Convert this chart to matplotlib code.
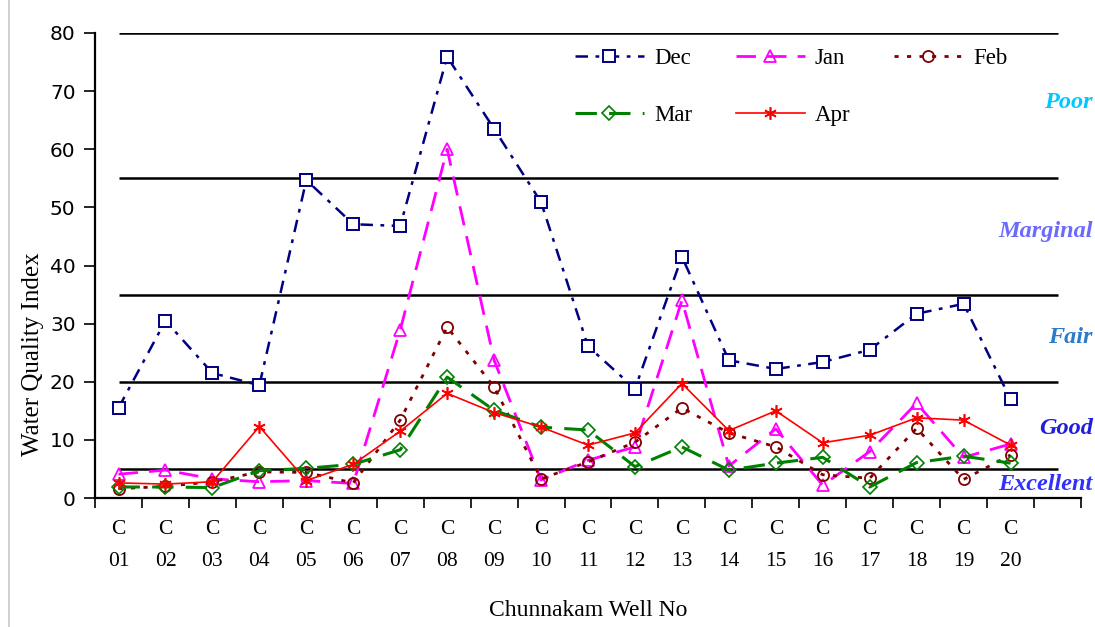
import numpy as np
import matplotlib
matplotlib.use('Agg')
import matplotlib.pyplot as plt
from matplotlib.lines import Line2D

plt.rcParams['font.family'] = ['Liberation Serif', 'DejaVu Serif']

# 数据
wells = ['C\n01', 'C\n02', 'C\n03', 'C\n04', 'C\n05', 'C\n06', 'C\n07', 'C\n08', 'C\n09', 'C\n10',
         'C\n11', 'C\n12', 'C\n13', 'C\n14', 'C\n15', 'C\n16', 'C\n17', 'C\n18', 'C\n19', 'C\n20']
dec = [15.5, 30.5, 21.5, 19.4, 54.7, 47.1, 46.8, 75.9, 63.5, 50.9,
       26.1, 18.8, 41.5, 23.7, 22.2, 23.4, 25.5, 31.7, 33.4, 17.0]
jan = [4.1, 4.8, 3.3, 2.8, 3.0, 2.5, 28.9, 60.0, 23.7, 3.1,
       6.5, 8.8, 34.0, 5.5, 11.9, 2.2, 8.0, 16.3, 7.0, 9.3]
feb = [1.6, 2.0, 2.8, 4.5, 4.4, 2.6, 13.4, 29.4, 19.1, 3.3,
       6.2, 9.6, 15.5, 11.2, 8.8, 4.0, 3.4, 12.0, 3.2, 7.4]
mar = [1.9, 1.9, 1.8, 4.7, 5.1, 5.8, 8.3, 20.8, 15.1, 12.2,
       11.7, 5.4, 8.8, 4.8, 6.0, 7.0, 1.9, 6.1, 7.2, 6.0]
apr = [2.6, 2.4, 2.8, 12.3, 3.0, 5.8, 11.5, 18.0, 14.7, 12.2,
       9.1, 11.2, 19.7, 11.6, 15.0, 9.5, 10.8, 13.8, 13.4, 9.1]

# 水质等级分界线和标签
levels = [5, 20, 35, 55, 80]
zone_names = ['Poor', 'Marginal', 'Fair', 'Good', 'Excellent']
zone_y = [68, 45.8, 27.7, 12.0, 2.4]
zone_colors = ['#00C8FF', '#6A6AFF', '#2A7CC8', '#1E1EDC', '#3030FF']

x = np.arange(len(wells))

fig = plt.figure(figsize=(10.95, 6.27), dpi=100)
ax = fig.add_axes([0.0868, 0.2057, 0.9004, 0.7417])

# 分界线延伸到第21个(空)类别
ax.hlines(levels, x[0], x[-1] + 1, colors='black', linewidth=1.8, zorder=1)

ax.plot(x, dec, color='#000080', linestyle=(0, (5, 3, 1.5, 3)), linewidth=1.8,
        marker='s', markersize=9, markerfacecolor='white', markeredgewidth=1.4, label='Dec', zorder=3)
ax.plot(x, jan, color='#FF00FF', linestyle=(0, (7, 4)), linewidth=2,
        marker='^', markersize=9, markerfacecolor='none', markeredgewidth=1.3, label='Jan', zorder=3)
ax.plot(x, feb, color='#800000', linestyle=(0, (1.5, 3)), linewidth=2,
        marker='o', markersize=8, markerfacecolor='none', markeredgewidth=1.3, label='Feb', zorder=3)
ax.plot(x, mar, color='#008000', linestyle=(0, (7, 4)), linewidth=2.2,
        marker='D', markersize=7, markerfacecolor='none', markeredgewidth=1.2, label='Mar', zorder=3)
ax.plot(x, apr, color='#FF0000', linestyle='-', linewidth=1.2,
        marker=(6, 2, 0), markersize=9, markeredgewidth=1.2, label='Apr', zorder=4)

for name, yy, c in zip(zone_names, zone_y, zone_colors):
    ax.text(20.75, yy, name, color=c, fontsize=17.5, fontweight='bold', fontstyle='italic',
            ha='right', va='center', clip_on=False)

ax.set_xlim(-0.5, 20.5)
ax.set_ylim(0, 80)
ax.set_yticks(np.arange(0, 81, 10))
ax.tick_params(axis='y', direction='out', length=8, width=1.2, labelsize=14.5, pad=6)
for lab in ax.get_yticklabels():
    lab.set_family('DejaVu Sans')

ax.set_xticks(np.arange(-0.5, 21, 1))
ax.set_xticklabels([])
ax.set_xticks(x, minor=True)
ax.set_xticklabels(wells, minor=True, fontsize=15.5, linespacing=1.9)
ax.tick_params(axis='x', which='major', direction='out', length=7, width=1.2)
ax.tick_params(axis='x', which='minor', length=0, pad=16)

ax.spines['top'].set_visible(False)
ax.spines['right'].set_visible(False)
ax.spines['left'].set_linewidth(1.6)
ax.spines['bottom'].set_linewidth(1.6)

ax.set_ylabel('Water Quality Index', fontsize=18)
ax.yaxis.set_label_coords(-0.052, 0.31)
ax.set_xlabel('Chunnakam Well No', fontsize=17, labelpad=21)

h, l = ax.get_legend_handles_labels()
order = [0, 3, 1, 4, 2]
ax.legend([h[i] for i in order], [l[i] for i in order], ncol=3, frameon=False,
          loc='upper left', bbox_to_anchor=(0.466, 1.012), fontsize=16.5,
          handlelength=3.0, handletextpad=0.45, columnspacing=1.9, labelspacing=1.55)

fig.add_artist(Line2D([0.008, 0.008], [0, 1], transform=fig.transFigure, color='#C8C8C8', linewidth=1.2))

fig.savefig('out.png', dpi=100)
